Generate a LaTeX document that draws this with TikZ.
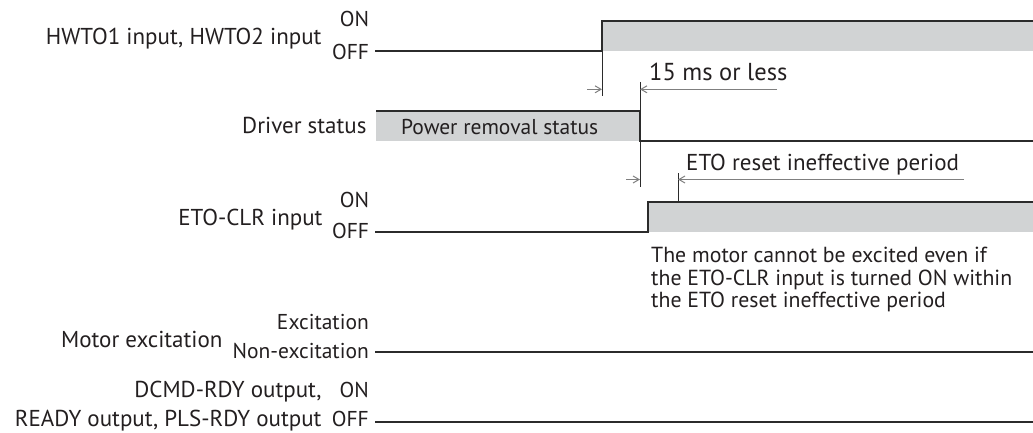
\documentclass[tikz,border=0pt]{standalone}
\usepackage{fontspec}
\setmainfont{PT Sans}
\usetikzlibrary{arrows.meta}
\definecolor{txt}{HTML}{231F20}
\definecolor{wavec}{HTML}{2B2B2B}
\definecolor{dimc}{HTML}{7F7F7F}
\definecolor{fillc}{HTML}{D1D3D4}
\begin{document}
\begin{tikzpicture}[x=1pt,y=-1pt,
  wave/.style={draw=wavec, line width=1.2pt},
  dimline/.style={draw=dimc, line width=1pt, -{Straight Barb[length=6pt,width=7pt]}},
  extline/.style={draw=wavec, line width=1pt},
  lbl/.style={font=\fontsize{23}{26}\selectfont, text=txt, inner sep=0pt},
  note/.style={font=\fontsize{21.8}{25}\selectfont, text=txt, inner sep=0pt},
  lvl/.style={font=\fontsize{21.5}{23}\selectfont, text=txt, inner sep=0pt}]
\useasboundingbox (0,0) rectangle (1033,433);
% coordinates
\coordinate (h0) at (375,51);  \coordinate (h1) at (602,51);
\coordinate (h2) at (602,21);  \coordinate (h3) at (1033,21);
\coordinate (d0) at (376,111); \coordinate (d1) at (640,111);
\coordinate (d2) at (640,141); \coordinate (d3) at (1033,141);
\coordinate (e0) at (375,232); \coordinate (e1) at (648,232);
\coordinate (e2) at (648,202); \coordinate (e3) at (1033,202);
\coordinate (m0) at (375,352); \coordinate (m1) at (1033,352);
\coordinate (r0) at (375,422); \coordinate (r1) at (1033,422);
% fills
\fill[fillc] (h2) rectangle (1033,51);
\fill[fillc] (d0) rectangle (d2);
\fill[fillc] (e2) rectangle (1033,232);
% waveforms
\draw[wave] (h0) -- (h1) -- (h2) -- (h3);
\draw[wave] (d0) -- (d1) -- (d2) -- (d3);
\draw[wave] (e0) -- (e1) -- (e2) -- (e3);
\draw[wave] (m0) -- (m1);
\draw[wave] (r0) -- (r1);
% extension lines
\coordinate (x1b) at (602,96);
\coordinate (x2t) at (640,82);  \coordinate (x2b) at (640,187);
\coordinate (x3t) at (678,173); \coordinate (x3b) at (678,202);
\draw[extline] (h1) -- (x1b);
\draw[extline] (x2t) -- (x2b);
\draw[extline] (x3t) -- (x3b);
% dimension arrows
\coordinate (a1s) at (587,89.3); \coordinate (a1e) at (602,89.3);
\coordinate (a2s) at (777,89.3); \coordinate (a2e) at (640,89.3);
\coordinate (b1s) at (626,179.5); \coordinate (b1e) at (640,179.5);
\coordinate (b2s) at (964,179.5); \coordinate (b2e) at (678,179.5);
\draw[dimline] (a1s) -- (a1e);
\draw[dimline] (a2s) -- (a2e);
\draw[dimline] (b1s) -- (b1e);
\draw[dimline] (b2s) -- (b2e);
% labels
\node[lbl, anchor=base east] (l1) at (321.7,44.3) {HWTO1 input, HWTO2 input};
\node[lvl, anchor=base east] (l1on) at (369.3,26.7) {ON};
\node[lvl, anchor=base east] (l1off) at (369.3,59.3) {OFF};
\node[lbl, anchor=base west, font=\fontsize{24.5}{27}\selectfont] (t15) at (649,80.7) {15 ms or less};
\node[lbl, anchor=base east] (l2) at (366.7,134) {Driver status};
\node[lbl, anchor=base west, font=\fontsize{21.5}{24}\selectfont] (prs) at (401,134.3) {Power removal status};
\node[lbl, anchor=base west] (eto) at (686,170.7) {ETO reset ineffective period};
\node[lbl, anchor=base east] (l3) at (322.7,225) {ETO-CLR input};
\node[lvl, anchor=base east] (l3on) at (369.3,207.3) {ON};
\node[lvl, anchor=base east] (l3off) at (369.3,238.3) {OFF};
\node[note, anchor=base west] (n1) at (651,262.3) {The motor cannot be excited even if};
\node[note, anchor=base west] (n2) at (651,285) {the ETO-CLR input is turned ON within};
\node[note, anchor=base west] (n3) at (651,307.7) {the ETO reset ineffective period};
\node[lbl, anchor=base east] (l4) at (222.7,347.3) {Motor excitation};
\node[lvl, anchor=base east] (l4on) at (369,329) {Excitation};
\node[lvl, anchor=base east] (l4off) at (369,358.3) {Non-excitation};
\node[lbl, anchor=base east] (l5a) at (321.7,397.3) {DCMD-RDY output,};
\node[lbl, anchor=base east] (l5b) at (321.7,426.7) {READY output, PLS-RDY output};
\node[lvl, anchor=base east] (l5on) at (369,397.3) {ON};
\node[lvl, anchor=base east] (l5off) at (369,426.7) {OFF};
\end{tikzpicture}
\end{document}
